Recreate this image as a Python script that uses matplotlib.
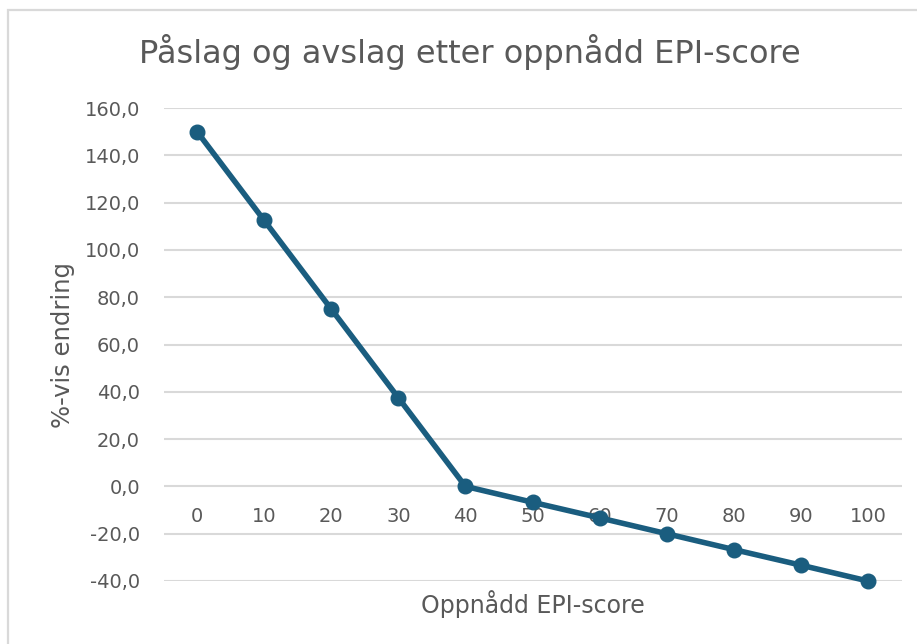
import matplotlib
matplotlib.use('Agg')
import matplotlib.pyplot as plt
from matplotlib.patches import Rectangle

# Data
scores = [0, 10, 20, 30, 40, 50, 60, 70, 80, 90, 100]
change = [150.0, 112.5, 75.0, 37.5, 0.0, -6.7, -13.3, -20.0, -26.7, -33.3, -40.0]

title = "Påslag og avslag etter oppnådd EPI-score"
xlabel = "Oppnådd EPI-score"
ylabel = "%-vis endring"

plt.rcParams['font.family'] = ['DejaVu Sans']
text_col = '#595959'
line_col = '#1A5D7F'

fig = plt.figure(figsize=(9.17, 6.44), dpi=100)
# chart area border (left and top edges visible)
fig.patches.append(Rectangle((8 / 917, -0.02), 1.0, 1 - 10 / 644 + 0.02, transform=fig.transFigure,
                             fill=False, edgecolor='#d9d9d9', linewidth=1.6))

ax = fig.add_axes([163.5 / 917, 1 - 581 / 644, 738 / 917, 473 / 644])
pos = list(range(len(scores)))
ax.plot(pos, change, color=line_col, linewidth=4.0, marker='o', markersize=10.5,
        solid_capstyle='round', zorder=3, clip_on=False)

ax.set_xlim(-0.5, len(scores) - 0.5)
ax.set_ylim(-40, 160)
ax.set_yticks(range(-40, 161, 20))
ax.set_yticklabels([f"{v:.1f}".replace('.', ',') for v in range(-40, 161, 20)])
ax.set_xticks(pos)
ax.set_xticklabels([str(s) for s in scores])

for s in ax.spines.values():
    s.set_visible(False)
ax.spines['bottom'].set_position(('data', 0))
ax.grid(axis='y', color='#d9d9d9', linewidth=1.5)
ax.set_axisbelow(True)
ax.tick_params(axis='both', length=0, labelsize=14, labelcolor=text_col)
ax.tick_params(axis='y', pad=17)
ax.tick_params(axis='x', pad=15)

fig.text(63 / 917, 1 - 345 / 644, ylabel, fontsize=17.5, color=text_col,
         ha='center', va='center', rotation=90)
fig.text(533 / 917, 1 - 613 / 644, xlabel, fontsize=17, color=text_col,
         ha='center', va='baseline')
fig.text(470 / 917, 1 - 63 / 644, title, fontsize=23, color=text_col,
         ha='center', va='baseline')

fig.savefig('out.png', dpi=100)
